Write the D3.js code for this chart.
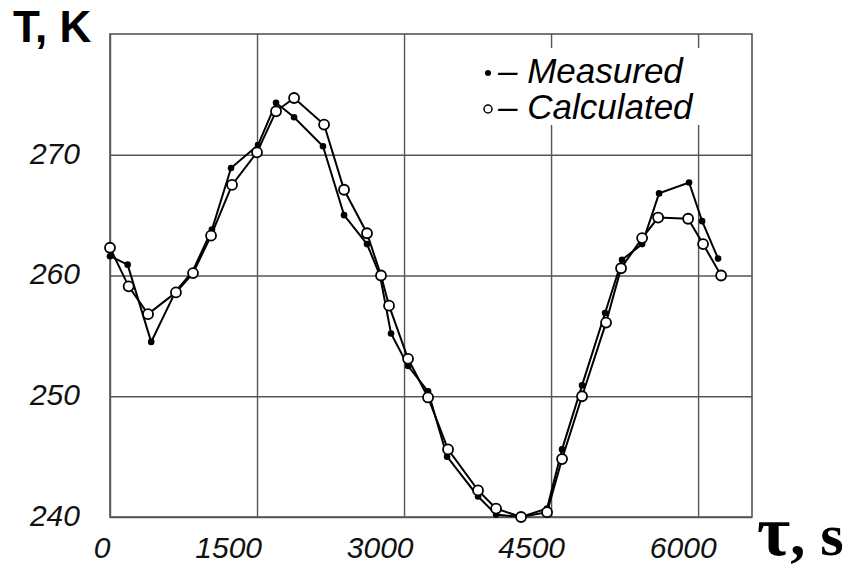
<!DOCTYPE html>
<html>
<head>
<meta charset="utf-8">
<script src="https://cdnjs.cloudflare.com/ajax/libs/d3/7.8.5/d3.min.js"></script>
<style>
    body { margin: 0; background: #fff; }
    .tick-label { font-family: "Liberation Sans", Arial, sans-serif; font-style: italic; font-size: 30px; fill: #111; }
</style>
</head>
<body>
<div id="chart"></div>
<script>
// values
var timeMeasured = [0, 180, 420, 670, 840, 1040, 1235, 1510, 1694, 1878, 2173, 2388, 2622, 2755, 2867, 3041, 3245, 3439, 3755, 3939, 4194, 4459, 4612, 4816, 5051, 5224, 5429, 5602, 5908, 6041, 6204],
    tempMeasured = [261.6, 260.9, 254.5, 258.7, 260.3, 263.8, 268.9, 270.8, 274.3, 273.1, 270.7, 265.0, 262.6, 260.0, 255.2, 252.5, 250.4, 245.0, 241.7, 240.2, 240.0, 240.7, 245.6, 250.9, 256.9, 261.3, 262.6, 266.8, 267.7, 264.5, 261.4],
    timeCalculated = [0, 190, 388, 673, 847, 1031, 1245, 1500, 1694, 1878, 2184, 2388, 2622, 2765, 2847, 3041, 3245, 3449, 3755, 3939, 4194, 4459, 4612, 4816, 5061, 5214, 5429, 5592, 5898, 6051, 6235],
    tempCalculated = [262.3, 259.1, 256.8, 258.6, 260.2, 263.3, 267.5, 270.2, 273.6, 274.7, 272.5, 267.1, 263.5, 260.0, 257.5, 253.1, 249.9, 245.6, 242.2, 240.7, 240.0, 240.4, 244.8, 250.0, 256.1, 260.6, 263.1, 264.8, 264.7, 262.6, 260.0],
    xTicks = [0, 1500, 3000, 4500, 6000],
    yTicks = [240, 250, 260, 270],
    legendLabels = ["Measured", "Calculated"];

var width = 859,
    height = 575,
    gridColor = "#555";

var svg = d3.select("#chart").append("svg")
    .attr("width", width)
    .attr("height", height);

var x = d3.scaleLinear().domain([0, 6550]).range([110, 752]),
    y = d3.scaleLinear().domain([240, 280]).range([517, 34]);

// grid
svg.append("g")
    .attr("transform", "translate(0," + y.range()[0] + ")")
    .call(d3.axisBottom(x).tickValues(xTicks).tickSize(-(y.range()[0] - y.range()[1])).tickFormat(""))
    .call(function (g) {
        g.select(".domain").remove();
        g.selectAll("line").attr("stroke", gridColor).attr("stroke-width", 1.4);
    });

svg.append("g")
    .attr("transform", "translate(" + x.range()[0] + ",0)")
    .call(d3.axisLeft(y).tickValues(yTicks).tickSize(-(x.range()[1] - x.range()[0])).tickFormat(""))
    .call(function (g) {
        g.select(".domain").remove();
        g.selectAll("line").attr("stroke", gridColor).attr("stroke-width", 1.4);
    });

// frame
svg.append("rect")
    .attr("x", x.range()[0])
    .attr("y", y.range()[1])
    .attr("width", x.range()[1] - x.range()[0])
    .attr("height", y.range()[0] - y.range()[1])
    .attr("fill", "none")
    .attr("stroke", gridColor)
    .attr("stroke-width", 1.6);

// tick labels
svg.append("g")
    .attr("transform", "translate(" + x.range()[0] + ",0)")
    .call(d3.axisLeft(y).tickValues(yTicks).tickSize(0).tickPadding(30).tickFormat(d3.format("d")))
    .call(function (g) {
        g.select(".domain").remove();
        g.selectAll("text").attr("class", "tick-label").attr("font-size", null).attr("font-family", null)
            .attr("dy", "0.28em");
    });

svg.append("g")
    .attr("transform", "translate(0," + y.range()[0] + ")")
    .call(d3.axisBottom(x).tickValues(xTicks).tickSize(0).tickFormat(d3.format("d")))
    .call(function (g) {
        g.select(".domain").remove();
        // the scanned labels drift a little to the right of their grid lines
        g.selectAll("text").attr("class", "tick-label")
            .attr("text-anchor", "end")
            .attr("x", function (d) { return d / 1500 * 4.5; })
            .attr("y", 41)
            .attr("dy", 0);
    });

// axis titles
svg.append("text")
    .attr("x", 13)
    .attr("y", 42)
    .style("font-family", "'Liberation Sans', Arial, sans-serif")
    .style("font-weight", "bold")
    .style("font-size", "44px")
    .text("T, K");

var tauTitle = svg.append("text")
    .attr("x", 757)
    .attr("y", 555)
    .style("font-family", "'Liberation Serif', 'Times New Roman', serif")
    .style("font-weight", "bold")
    .style("font-size", "60px");
tauTitle.append("tspan").style("font-size", "72px").text("τ");
tauTitle.append("tspan").text(", s");

// series
var measured = timeMeasured.map(function (t, i) { return [t, tempMeasured[i]]; }),
    calculated = timeCalculated.map(function (t, i) { return [t, tempCalculated[i]]; });

var line = d3.line()
    .x(function (d) { return x(d[0]); })
    .y(function (d) { return y(d[1]); });

svg.append("path")
    .datum(measured)
    .attr("d", line)
    .attr("fill", "none")
    .attr("stroke", "#000")
    .attr("stroke-width", 2);

svg.append("path")
    .datum(calculated)
    .attr("d", line)
    .attr("fill", "none")
    .attr("stroke", "#000")
    .attr("stroke-width", 2);

svg.append("g").selectAll("circle")
    .data(measured)
    .enter().append("circle")
    .attr("cx", function (d) { return x(d[0]); })
    .attr("cy", function (d) { return y(d[1]); })
    .attr("r", 3.3)
    .attr("fill", "#000");

svg.append("g").selectAll("circle")
    .data(calculated)
    .enter().append("circle")
    .attr("cx", function (d) { return x(d[0]); })
    .attr("cy", function (d) { return y(d[1]); })
    .attr("r", 5)
    .attr("fill", "#fff")
    .attr("stroke", "#000")
    .attr("stroke-width", 1.8);

// legend, on a white patch that hides the grid behind it
var legend = svg.append("g");

legend.append("rect")
    .attr("x", 480)
    .attr("y", 48)
    .attr("width", 225)
    .attr("height", 77)
    .attr("fill", "#fff");

legendLabels.forEach(function (label, i) {
    var ly = 73 + i * 36;
    if (i === 0) {
        legend.append("circle").attr("cx", 488).attr("cy", ly).attr("r", 3).attr("fill", "#000");
    } else {
        legend.append("circle").attr("cx", 488).attr("cy", ly).attr("r", 4)
            .attr("fill", "#fff").attr("stroke", "#000").attr("stroke-width", 1.5);
    }
    legend.append("text")
        .attr("x", 498)
        .attr("y", ly + 10)
        .style("font-family", "'Liberation Sans', Arial, sans-serif")
        .style("font-style", "italic")
        .style("font-size", "35px")
        .text("\u2013 " + label);
});
</script>
</body>
</html>
